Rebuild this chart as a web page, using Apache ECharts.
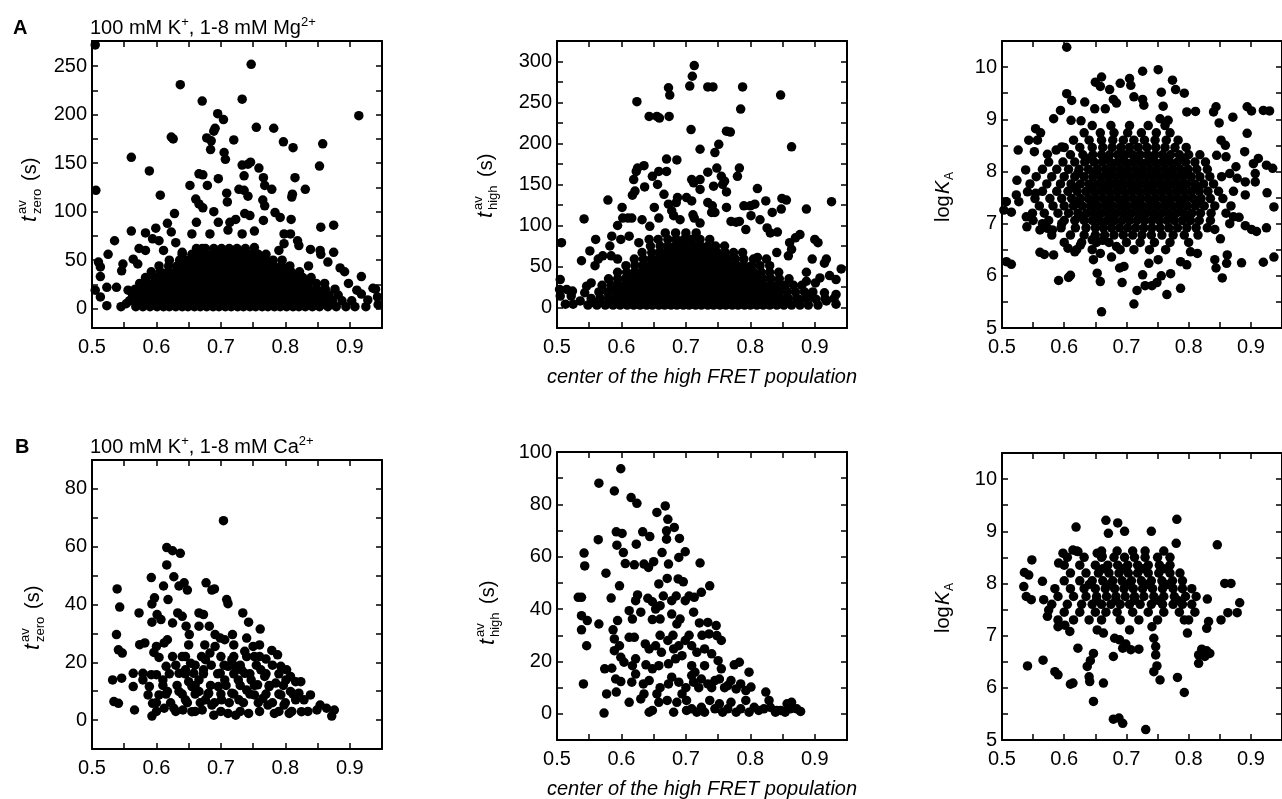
<!DOCTYPE html>
<html>
<head>
<meta charset="utf-8">
<script src="https://cdn.jsdelivr.net/npm/echarts@6/dist/echarts.min.js"></script>
<style>
  html, body { margin: 0; padding: 0; background: #fff; }
  #main { width: 1282px; height: 799px; }
</style>
</head>
<body>
<div id="main"></div>
<script>
// tick labels
const xLabels = [0.5, 0.6, 0.7, 0.8, 0.9];
const xTicks = [0.55, 0.6, 0.65, 0.7, 0.75, 0.8, 0.85, 0.9];
const a1YLabels = [0, 50, 100, 150, 200, 250];
const a1YTicks = [0, 25, 50, 75, 100, 125, 150, 175, 200, 225, 250];
const a2YLabels = [0, 50, 100, 150, 200, 250, 300];
const a2YTicks = [0, 25, 50, 75, 100, 125, 150, 175, 200, 225, 250, 275, 300];
const kYLabels = [5, 6, 7, 8, 9, 10];
const kYTicks = [5.5, 6, 6.5, 7, 7.5, 8, 8.5, 9, 9.5, 10];
const b1YLabels = [0, 20, 40, 60, 80];
const b1YTicks = [0, 10, 20, 30, 40, 50, 60, 70, 80];
const b2YLabels = [0, 20, 40, 60, 80, 100];
const b2YTicks = [0, 10, 20, 30, 40, 50, 60, 70, 80, 90];

// A, left: t_zero vs FRET center (Mg)
const a1Pts = [[0.505,272],[0.506,122],[0.747,252],[0.637,231],[0.671,214],[0.733,216],[0.914,199],[0.695,201],[0.704,195],[0.691,186],[0.689,183],[0.755,187],[0.782,186],[0.623,177],[0.626,175],[0.678,176],[0.685,173],[0.684,164],[0.72,174],[0.797,172],[0.812,166],[0.858,170],[0.561,156],[0.589,142],[0.705,161],[0.707,154],[0.746,151],[0.733,148],[0.742,149],[0.853,147],[0.759,145],[0.666,139],[0.672,138],[0.696,134],[0.736,137],[0.766,135],[0.815,135],[0.652,127],[0.679,127],[0.728,123],[0.779,123],[0.831,123],[0.768,127],[0.606,117],[0.709,119],[0.71,110],[0.736,122],[0.742,116],[0.811,118],[0.81,115],[0.661,113],[0.666,108],[0.672,104],[0.689,100],[0.765,112],[0.768,106],[0.628,98],[0.737,98],[0.745,96],[0.784,99],[0.792,94],[0.809,92],[0.766,91],[0.723,92],[0.714,89],[0.696,89],[0.662,89],[0.617,88],[0.875,86],[0.855,84],[0.599,83],[0.561,80],[0.623,79],[0.655,77],[0.683,77],[0.711,81],[0.733,77],[0.752,80],[0.798,77],[0.808,77],[0.583,78],[0.535,70],[0.594,72],[0.604,70],[0.63,68],[0.819,70],[0.821,65],[0.798,67],[0.525,56],[0.573,62],[0.583,60],[0.611,60],[0.64,58],[0.839,61],[0.854,60],[0.875,58],[0.855,56],[0.79,60],[0.752,63],[0.732,56],[0.671,62],[0.836,44],[0.885,42],[0.892,38],[0.866,48],[0.918,33],[0.898,26],[0.911,19],[0.936,21],[0.918,15],[0.928,9],[0.51,48],[0.513,43],[0.513,33],[0.505,19],[0.513,12],[0.523,3],[0.523,22],[0.548,46],[0.546,39],[0.564,51],[0.571,46],[0.556,19],[0.538,22],[0.553,5],[0.94,20],[0.943,12],[0.944,4]];
const a1Rows = [
  [2, [0.545,0.568,0.579,0.59,0.601,0.611,0.62,0.63,0.64,0.649,0.659,0.668,0.678,0.688,0.697,0.707,0.716,0.726,0.735,0.745,0.754,0.764,0.773,0.783,0.792,0.802,0.812,0.821,0.831,0.842,0.853,0.866,0.879,0.894,0.908,0.925]],
  [8, [0.558,0.571,0.583,0.594,0.605,0.615,0.625,0.635,0.644,0.654,0.663,0.673,0.683,0.692,0.702,0.711,0.721,0.731,0.74,0.75,0.759,0.769,0.778,0.788,0.797,0.807,0.817,0.827,0.838,0.849,0.861,0.873,0.888,0.903]],
  [14, [0.563,0.575,0.587,0.598,0.609,0.619,0.629,0.639,0.648,0.658,0.667,0.677,0.686,0.696,0.706,0.715,0.725,0.734,0.744,0.753,0.763,0.772,0.782,0.791,0.801,0.811,0.821,0.832,0.843,0.855,0.868,0.882]],
  [20, [0.567,0.58,0.592,0.603,0.613,0.623,0.633,0.643,0.652,0.662,0.671,0.681,0.69,0.7,0.71,0.719,0.729,0.738,0.748,0.757,0.767,0.776,0.786,0.795,0.805,0.815,0.826,0.837,0.849,0.862,0.877]],
  [26, [0.574,0.587,0.599,0.61,0.62,0.63,0.64,0.649,0.659,0.668,0.678,0.687,0.697,0.706,0.716,0.725,0.735,0.744,0.754,0.763,0.773,0.782,0.792,0.802,0.812,0.823,0.835,0.848,0.861]],
  [32, [0.583,0.597,0.609,0.62,0.631,0.641,0.651,0.66,0.67,0.679,0.689,0.698,0.708,0.717,0.727,0.736,0.746,0.755,0.765,0.774,0.784,0.794,0.804,0.815,0.827,0.84]],
  [38, [0.592,0.606,0.618,0.63,0.641,0.651,0.661,0.671,0.68,0.69,0.699,0.709,0.718,0.728,0.737,0.747,0.756,0.766,0.776,0.786,0.797,0.809,0.822]],
  [44, [0.604,0.619,0.632,0.644,0.655,0.665,0.675,0.685,0.694,0.704,0.713,0.723,0.732,0.742,0.751,0.761,0.771,0.782,0.794,0.807]],
  [50, [0.62,0.636,0.649,0.66,0.671,0.681,0.691,0.7,0.71,0.719,0.729,0.738,0.748,0.758,0.769,0.781,0.795]],
  [56, [0.64,0.655,0.667,0.678,0.688,0.698,0.708,0.717,0.727,0.737,0.747,0.758,0.77]],
  [62, [0.662,0.676,0.689,0.701,0.713,0.725,0.738]]
];

// A, middle: t_high vs FRET center (Mg)
const a2Pts = [[0.713,295],[0.71,282],[0.706,270],[0.673,268],[0.675,259],[0.734,269],[0.742,269],[0.788,269],[0.847,259],[0.624,251],[0.785,242],[0.643,233],[0.655,233],[0.659,231],[0.674,233],[0.708,217],[0.763,215],[0.769,214],[0.864,196],[0.722,193],[0.751,199],[0.745,189],[0.67,181],[0.686,180],[0.635,173],[0.625,170],[0.623,166],[0.783,170],[0.78,160],[0.658,166],[0.67,166],[0.648,160],[0.656,150],[0.734,165],[0.748,170],[0.722,156],[0.709,156],[0.712,152],[0.755,160],[0.76,154],[0.757,150],[0.743,148],[0.763,141],[0.763,122],[0.619,156],[0.621,142],[0.617,137],[0.636,147],[0.722,144],[0.811,145],[0.666,138],[0.673,126],[0.687,134],[0.685,128],[0.701,134],[0.709,130],[0.579,131],[0.734,128],[0.741,124],[0.79,124],[0.8,124],[0.807,126],[0.824,130],[0.849,133],[0.856,131],[0.848,120],[0.887,120],[0.926,129],[0.601,122],[0.651,122],[0.658,109],[0.542,108],[0.602,109],[0.61,109],[0.616,109],[0.632,107],[0.644,99],[0.594,100],[0.678,118],[0.681,112],[0.691,107],[0.711,113],[0.713,109],[0.722,103],[0.74,116],[0.745,116],[0.77,105],[0.778,104],[0.783,105],[0.801,112],[0.815,107],[0.834,116],[0.793,95],[0.826,97],[0.831,91],[0.842,92],[0.87,85],[0.877,89],[0.9,83],[0.905,79],[0.56,83],[0.599,83],[0.612,87],[0.627,79],[0.643,83],[0.585,87],[0.582,75],[0.551,69],[0.538,57],[0.584,63],[0.594,59],[0.507,79],[0.861,79],[0.864,71],[0.896,59],[0.915,54],[0.918,59],[0.859,63],[0.841,67],[0.811,61],[0.825,59],[0.887,43],[0.908,36],[0.923,39],[0.933,34],[0.941,47],[0.887,32],[0.901,30],[0.915,18],[0.933,16],[0.902,10],[0.918,8],[0.933,4],[0.875,10],[0.892,12],[0.505,34],[0.505,14],[0.504,22],[0.513,4],[0.525,4],[0.515,22],[0.524,20],[0.522,14],[0.536,8],[0.543,18],[0.546,26],[0.553,30],[0.556,6],[0.566,6],[0.559,51],[0.564,59],[0.571,63]];
const a2Rows = [
  [3, [0.548,0.562,0.575,0.587,0.598,0.609,0.619,0.629,0.639,0.648,0.658,0.667,0.677,0.686,0.696,0.705,0.715,0.724,0.734,0.743,0.753,0.762,0.772,0.781,0.791,0.8,0.81,0.82,0.83,0.841,0.852,0.864,0.877,0.89,0.905]],
  [11, [0.553,0.567,0.58,0.592,0.603,0.614,0.624,0.634,0.643,0.653,0.662,0.672,0.681,0.691,0.7,0.71,0.719,0.729,0.738,0.748,0.757,0.767,0.776,0.786,0.795,0.805,0.815,0.825,0.836,0.847,0.859,0.872,0.886,0.916,0.93]],
  [19, [0.565,0.578,0.59,0.601,0.612,0.622,0.632,0.641,0.651,0.66,0.67,0.679,0.689,0.698,0.708,0.717,0.727,0.736,0.746,0.755,0.765,0.774,0.784,0.793,0.803,0.813,0.823,0.834,0.845,0.857,0.87,0.884,0.897]],
  [27, [0.57,0.584,0.596,0.607,0.618,0.628,0.638,0.647,0.657,0.666,0.676,0.685,0.695,0.704,0.714,0.723,0.733,0.742,0.752,0.761,0.771,0.78,0.79,0.8,0.81,0.82,0.831,0.842,0.854,0.867,0.88]],
  [35, [0.58,0.594,0.606,0.617,0.627,0.637,0.646,0.656,0.665,0.675,0.684,0.694,0.703,0.713,0.722,0.732,0.741,0.751,0.76,0.77,0.779,0.789,0.799,0.809,0.82,0.832,0.845,0.86]],
  [43, [0.594,0.608,0.62,0.631,0.641,0.651,0.66,0.67,0.679,0.689,0.698,0.708,0.717,0.727,0.736,0.746,0.755,0.765,0.774,0.784,0.794,0.805,0.817,0.83,0.844]],
  [51, [0.607,0.621,0.633,0.644,0.654,0.664,0.673,0.683,0.692,0.702,0.711,0.721,0.73,0.74,0.749,0.759,0.769,0.779,0.79,0.802,0.815,0.83]],
  [59, [0.62,0.634,0.646,0.657,0.667,0.677,0.686,0.696,0.705,0.715,0.724,0.734,0.744,0.754,0.765,0.777,0.79,0.805]],
  [67, [0.632,0.647,0.659,0.67,0.68,0.69,0.699,0.709,0.718,0.728,0.738,0.749,0.761,0.774,0.788]],
  [75, [0.645,0.66,0.672,0.683,0.693,0.703,0.713,0.723,0.734,0.746,0.76]],
  [83, [0.657,0.672,0.685,0.697,0.709,0.722,0.737]],
  [91, [0.668,0.684,0.7,0.716]]
];

// A, right: logK_A vs FRET center (Mg)
const a3Pts = [[0.604,10.38],[0.726,9.92],[0.751,9.95],[0.66,9.81],[0.65,9.71],[0.658,9.63],[0.673,9.57],[0.69,9.69],[0.705,9.78],[0.707,9.65],[0.774,9.75],[0.779,9.57],[0.793,9.5],[0.756,9.52],[0.604,9.49],[0.612,9.36],[0.633,9.33],[0.679,9.38],[0.684,9.31],[0.712,9.43],[0.726,9.38],[0.728,9.27],[0.759,9.25],[0.594,9.17],[0.649,9.2],[0.666,9.2],[0.797,9.14],[0.811,9.15],[0.84,9.14],[0.844,9.24],[0.894,9.24],[0.901,9.16],[0.92,9.17],[0.93,9.16],[0.583,9.01],[0.611,8.98],[0.627,8.97],[0.871,9.04],[0.849,8.93],[0.754,9.01],[0.767,8.98],[0.526,8.41],[0.543,8.6],[0.554,8.82],[0.562,8.74],[0.557,8.6],[0.552,8.38],[0.596,8.47],[0.587,8.41],[0.573,8.33],[0.538,8.03],[0.524,7.83],[0.523,7.55],[0.527,7.42],[0.507,7.42],[0.503,7.26],[0.515,7.22],[0.539,7.13],[0.54,6.94],[0.549,7.2],[0.541,7.61],[0.554,7.58],[0.561,6.88],[0.565,7.0],[0.573,6.91],[0.561,6.45],[0.568,6.41],[0.583,6.4],[0.507,6.27],[0.515,6.22],[0.591,5.91],[0.607,5.97],[0.61,6.01],[0.581,6.88],[0.596,7.0],[0.606,6.53],[0.617,6.46],[0.626,6.59],[0.645,6.69],[0.647,6.31],[0.658,6.43],[0.662,6.68],[0.653,6.05],[0.658,5.89],[0.66,5.31],[0.689,6.15],[0.696,6.18],[0.693,5.87],[0.676,6.36],[0.684,6.56],[0.717,5.72],[0.712,5.46],[0.726,6.02],[0.73,5.81],[0.741,5.81],[0.749,5.87],[0.756,6.0],[0.771,6.04],[0.765,5.64],[0.736,6.24],[0.751,6.31],[0.787,5.76],[0.787,6.27],[0.797,6.21],[0.803,6.46],[0.814,6.43],[0.842,6.31],[0.844,6.15],[0.854,5.96],[0.861,6.24],[0.862,6.4],[0.851,6.71],[0.885,6.25],[0.92,6.26],[0.937,6.36],[0.842,6.89],[0.866,7.0],[0.872,7.13],[0.881,7.12],[0.891,6.96],[0.901,6.89],[0.909,6.85],[0.925,6.92],[0.891,7.55],[0.926,7.59],[0.937,7.32],[0.894,8.73],[0.89,8.38],[0.904,8.15],[0.912,8.25],[0.925,8.12],[0.935,8.06],[0.907,7.96],[0.907,7.8],[0.876,8.09],[0.866,7.96],[0.878,7.87],[0.891,7.8],[0.859,8.5],[0.852,8.6],[0.845,8.31],[0.86,8.28]];
const a3Rows = [
  [6.5, [0.62,0.645,0.69,0.712,0.737,0.763]],
  [6.64, [0.6,0.628,0.652,0.672,0.7,0.722,0.745,0.77,0.8]],
  [6.78, [0.58,0.61,0.632,0.65,0.665,0.68,0.695,0.71,0.725,0.74,0.757,0.775,0.793,0.815]],
  [6.92, [0.595,0.618,0.635,0.65,0.663,0.676,0.689,0.702,0.715,0.728,0.741,0.754,0.768,0.782,0.797,0.812,0.83]],
  [7.06, [0.55,0.575,0.6,0.617,0.632,0.645,0.657,0.669,0.681,0.693,0.705,0.717,0.729,0.741,0.753,0.765,0.777,0.79,0.803,0.817,0.835]],
  [7.13, [0.626,0.651,0.675,0.699,0.723,0.747,0.771,0.796]],
  [7.2, [0.568,0.59,0.607,0.622,0.636,0.648,0.66,0.672,0.684,0.696,0.708,0.72,0.732,0.744,0.756,0.768,0.78,0.792,0.805,0.819,0.836,0.86]],
  [7.34, [0.56,0.582,0.6,0.615,0.629,0.642,0.654,0.666,0.678,0.69,0.702,0.714,0.726,0.738,0.75,0.762,0.774,0.786,0.798,0.811,0.825,0.842,0.868]],
  [7.41, [0.62,0.645,0.669,0.693,0.717,0.741,0.765,0.79,0.815]],
  [7.48, [0.553,0.577,0.596,0.612,0.626,0.639,0.651,0.663,0.675,0.687,0.699,0.711,0.723,0.735,0.747,0.759,0.771,0.783,0.795,0.807,0.82,0.835,0.855]],
  [7.62, [0.565,0.588,0.606,0.621,0.635,0.648,0.66,0.672,0.684,0.696,0.708,0.72,0.732,0.744,0.756,0.768,0.78,0.792,0.804,0.817,0.831,0.848,0.872]],
  [7.69, [0.617,0.642,0.666,0.69,0.714,0.738,0.762,0.786,0.811]],
  [7.76, [0.545,0.572,0.594,0.611,0.626,0.64,0.653,0.665,0.677,0.689,0.701,0.713,0.725,0.737,0.749,0.761,0.773,0.785,0.797,0.81,0.824,0.84]],
  [7.9, [0.555,0.58,0.6,0.617,0.632,0.646,0.659,0.671,0.683,0.695,0.707,0.719,0.731,0.743,0.755,0.767,0.779,0.791,0.804,0.818,0.834,0.853]],
  [7.97, [0.622,0.647,0.672,0.696,0.72,0.744,0.768,0.792]],
  [8.04, [0.565,0.588,0.607,0.624,0.639,0.653,0.666,0.678,0.69,0.702,0.714,0.726,0.738,0.75,0.762,0.774,0.786,0.799,0.813,0.83]],
  [8.18, [0.575,0.598,0.617,0.633,0.648,0.661,0.674,0.686,0.698,0.71,0.722,0.734,0.746,0.758,0.77,0.782,0.795,0.81,0.827]],
  [8.25, [0.64,0.667,0.692,0.716,0.74,0.764,0.788]],
  [8.32, [0.61,0.63,0.646,0.66,0.673,0.686,0.698,0.71,0.722,0.734,0.746,0.758,0.771,0.785,0.8,0.818]],
  [8.46, [0.6,0.625,0.645,0.662,0.677,0.691,0.705,0.719,0.733,0.747,0.762,0.778,0.796]],
  [8.6, [0.615,0.64,0.66,0.678,0.695,0.712,0.729,0.746,0.764,0.783]],
  [8.74, [0.632,0.658,0.68,0.702,0.724,0.748,0.77]],
  [8.88, [0.645,0.675,0.705,0.735,0.762]]
];

// B, left: t_zero vs FRET center (Ca)
const b1Pts = [[0.704,69],[0.616,59.7],[0.625,58.6],[0.637,57.7],[0.616,53.7],[0.592,49.3],[0.627,49.6],[0.635,46.4],[0.643,47.5],[0.648,45],[0.611,46.4],[0.539,45.4],[0.677,47.5],[0.686,45],[0.69,45.4],[0.597,42.3],[0.593,40.2],[0.573,37.1],[0.543,39.1],[0.601,36.5],[0.607,34.8],[0.593,33.9],[0.625,33.6],[0.618,41.7],[0.633,37.1],[0.64,35.9],[0.646,32.5],[0.651,29.6],[0.666,37.1],[0.673,36.5],[0.666,32.5],[0.682,32.5],[0.709,41.7],[0.711,40.3],[0.734,37.1],[0.743,33.9],[0.538,29.6],[0.541,24.3],[0.547,23.2],[0.574,26.1],[0.582,26.7],[0.596,23.4],[0.6,25.5],[0.604,21.7],[0.617,27.8],[0.612,26.7],[0.718,29.6],[0.691,29.6],[0.699,28.4],[0.706,27.8],[0.74,28.4],[0.75,25.5],[0.761,31.5],[0.737,23.8],[0.74,22],[0.752,22],[0.779,24.1],[0.788,22.6],[0.77,21.1],[0.762,17.4],[0.793,18.6],[0.532,13.9],[0.546,14.5],[0.534,6.4],[0.541,5.8],[0.566,3.5],[0.564,11.6],[0.564,16.2],[0.579,16.2],[0.579,13.9],[0.592,15.7],[0.6,15.7],[0.587,8.7],[0.594,5.8],[0.593,1.4],[0.589,11.6],[0.61,13.9],[0.615,18.6],[0.625,22],[0.604,8.7],[0.617,9.9],[0.612,4.1],[0.627,4.1],[0.635,9.9],[0.645,7],[0.641,3.5],[0.655,2.9],[0.635,16.2],[0.645,17.4],[0.653,19.7],[0.645,22],[0.658,16.2],[0.666,13.9],[0.673,17.4],[0.676,20.9],[0.683,23.2],[0.691,25.5],[0.666,9.9],[0.676,7],[0.681,9.3],[0.689,1.7],[0.699,16.2],[0.706,13.9],[0.711,18.6],[0.717,20.9],[0.696,11.6],[0.701,7],[0.711,2.3],[0.723,1.7],[0.717,9.3],[0.727,13.9],[0.732,17.4],[0.737,16.2],[0.722,18.6],[0.728,7],[0.74,10.4],[0.743,2.3],[0.747,13.9],[0.752,8.7],[0.757,12.2],[0.765,7.5],[0.768,15.1],[0.775,11.6],[0.783,2.3],[0.773,5.2],[0.785,12.8],[0.793,8.7],[0.798,5.2],[0.801,13.9],[0.808,9.9],[0.816,13.3],[0.824,13.3],[0.806,2.3],[0.816,7],[0.821,9.3],[0.825,2.9],[0.829,7],[0.839,8.7],[0.849,3.5],[0.854,5.2],[0.864,4.1],[0.872,1.4],[0.876,3.5],[0.802,17.4],[0.808,15.1],[0.655,11.6],[0.65,13.3],[0.671,3.5],[0.686,5.2]];
const b1Rows = [
  [3, [0.6,0.63,0.66,0.7,0.73,0.76,0.79,0.81,0.835]],
  [6, [0.6,0.622,0.648,0.668,0.69,0.713,0.735,0.758,0.78,0.8]],
  [9, [0.615,0.64,0.66,0.68,0.7,0.72,0.745,0.77,0.79,0.812]],
  [12, [0.61,0.632,0.66,0.684,0.708,0.73,0.752,0.775,0.797]],
  [16, [0.62,0.645,0.673,0.695,0.72,0.745,0.77,0.79]],
  [19, [0.63,0.66,0.685,0.705,0.73,0.755,0.78]],
  [22, [0.64,0.67,0.7,0.72,0.76]],
  [26, [0.65,0.675,0.72,0.76]]
];

// B, middle: t_high vs FRET center (Ca)
const b2Pts = [[0.599,93.6],[0.565,88.1],[0.589,85.1],[0.615,82.6],[0.624,80.4],[0.668,79.4],[0.672,74.3],[0.655,76.9],[0.682,71.2],[0.592,69.5],[0.601,68.9],[0.633,69.5],[0.644,67.7],[0.67,69.9],[0.67,66.7],[0.69,67],[0.564,66.5],[0.623,64.8],[0.593,64.4],[0.603,61.6],[0.699,61.9],[0.689,59.7],[0.542,61.4],[0.543,56.5],[0.62,56.9],[0.606,57.4],[0.642,55.9],[0.635,57.2],[0.65,58.1],[0.663,61.6],[0.673,57.2],[0.722,57.6],[0.576,53.7],[0.597,48.9],[0.658,49.6],[0.671,51.7],[0.688,51.5],[0.696,50.4],[0.737,48.9],[0.724,46.4],[0.533,44.5],[0.538,44.5],[0.584,44.2],[0.625,45.4],[0.622,43.2],[0.641,44.1],[0.648,42.8],[0.653,40],[0.66,41.3],[0.678,43.2],[0.699,43.2],[0.713,44.5],[0.712,38.8],[0.612,39.4],[0.63,38.8],[0.617,36.2],[0.538,37.5],[0.547,35.6],[0.565,34.3],[0.538,32.1],[0.546,26],[0.587,32.1],[0.594,35.6],[0.648,36],[0.66,36.2],[0.678,38.1],[0.686,34.3],[0.691,36.2],[0.721,34.7],[0.734,34.9],[0.747,33.7],[0.736,30.5],[0.748,29.9],[0.755,28],[0.589,28.6],[0.597,26],[0.612,29.2],[0.62,29.2],[0.637,26.7],[0.643,24.8],[0.653,26],[0.662,23.5],[0.672,28],[0.681,24.8],[0.699,28],[0.709,26],[0.717,23.5],[0.689,26],[0.694,22.2],[0.729,24.8],[0.74,22.9],[0.589,24.1],[0.599,21.6],[0.604,19.7],[0.622,21],[0.617,18.4],[0.638,18.7],[0.648,17.2],[0.658,18.4],[0.673,19.1],[0.684,21],[0.709,18.4],[0.714,15.9],[0.729,18.4],[0.75,20.3],[0.755,17.2],[0.775,18.7],[0.783,19.7],[0.798,15.9],[0.574,17.2],[0.585,17.4],[0.541,11.4],[0.591,13.3],[0.599,12.3],[0.616,12.1],[0.622,15.2],[0.634,11.4],[0.643,12.7],[0.678,14],[0.673,11.4],[0.689,12.1],[0.709,14.6],[0.712,12.1],[0.724,13.3],[0.734,11.4],[0.745,12.7],[0.752,13.3],[0.765,10.8],[0.77,12.7],[0.778,9.5],[0.785,11.4],[0.793,8.9],[0.801,10.2],[0.824,8.3],[0.829,5.1],[0.577,7.6],[0.592,8.3],[0.612,4.4],[0.63,5.7],[0.635,7.6],[0.655,7.6],[0.658,4.4],[0.643,0.6],[0.648,1.3],[0.671,5.1],[0.686,4.4],[0.681,0.6],[0.694,7.6],[0.701,5.1],[0.701,1.3],[0.709,1.9],[0.717,0.6],[0.724,2.5],[0.729,0.6],[0.737,5.1],[0.745,1.9],[0.752,3.8],[0.757,0.6],[0.765,1.9],[0.77,4.4],[0.778,0.6],[0.785,1.9],[0.793,5.1],[0.798,0.6],[0.806,2.5],[0.813,1.3],[0.821,1.9],[0.831,2.5],[0.839,0.6],[0.841,1.3],[0.854,0.6],[0.847,1.3],[0.857,3.8],[0.864,4.4],[0.872,1.9],[0.878,0.9],[0.862,1.9],[0.573,0.3]];
const b2Rows = [
  [10, [0.66,0.7,0.72,0.74,0.76]],
  [30, [0.66,0.68,0.705,0.725]],
  [45, [0.665,0.685,0.705]]
];

// B, right: logK_A vs FRET center (Ca)
const b3Pts = [[0.781,9.23],[0.667,9.21],[0.686,9.16],[0.619,9.08],[0.671,8.96],[0.697,9.0],[0.74,9.0],[0.846,8.74],[0.78,8.77],[0.548,8.45],[0.536,8.21],[0.535,7.94],[0.539,7.75],[0.547,7.69],[0.543,8.16],[0.565,8.04],[0.541,6.42],[0.566,6.53],[0.585,6.31],[0.59,6.25],[0.61,6.07],[0.614,6.09],[0.641,6.12],[0.663,6.09],[0.647,5.74],[0.679,5.4],[0.688,5.42],[0.694,5.32],[0.731,5.2],[0.782,6.2],[0.793,5.91],[0.744,6.31],[0.754,6.15],[0.749,6.42],[0.747,6.63],[0.747,6.79],[0.744,6.95],[0.741,7.17],[0.637,6.41],[0.64,6.21],[0.642,6.52],[0.647,6.66],[0.679,6.6],[0.622,6.76],[0.816,6.63],[0.821,6.74],[0.829,6.71],[0.834,6.66],[0.826,6.6],[0.816,6.47],[0.829,7.14],[0.832,7.27],[0.83,7.7],[0.852,7.3],[0.863,7.44],[0.878,7.44],[0.882,7.63],[0.858,8.0],[0.868,8.0],[0.798,7.05],[0.793,7.3],[0.705,7.11],[0.707,6.73],[0.72,6.74],[0.681,6.95],[0.689,6.92],[0.699,6.84],[0.694,6.76],[0.663,7.05],[0.653,7.11],[0.609,7.08],[0.601,7.2],[0.59,7.17],[0.573,7.37],[0.575,7.49],[0.567,7.69],[0.598,8.58],[0.591,8.39],[0.614,8.64],[0.622,8.61],[0.653,8.58],[0.661,8.52]];
const b3Rows = [
  [7.3, [0.59,0.615,0.64,0.66,0.69,0.72,0.75,0.8]],
  [7.45, [0.6,0.625,0.65,0.667,0.685,0.71,0.735,0.76,0.785,0.81]],
  [7.6, [0.58,0.605,0.628,0.645,0.66,0.675,0.69,0.705,0.722,0.74,0.758,0.775,0.79,0.805]],
  [7.68, [0.652,0.683,0.713,0.75,0.782]],
  [7.75, [0.59,0.615,0.635,0.652,0.668,0.683,0.698,0.713,0.728,0.744,0.76,0.777,0.795,0.812]],
  [7.9, [0.585,0.61,0.632,0.65,0.666,0.681,0.696,0.711,0.726,0.742,0.758,0.775,0.79,0.805]],
  [7.98, [0.64,0.673,0.703,0.733,0.766]],
  [8.05, [0.6,0.625,0.645,0.662,0.678,0.693,0.708,0.724,0.74,0.757,0.774,0.79]],
  [8.2, [0.61,0.635,0.655,0.672,0.688,0.703,0.718,0.735,0.752,0.77,0.786]],
  [8.28, [0.662,0.695,0.727,0.76]],
  [8.35, [0.6,0.625,0.65,0.67,0.686,0.702,0.718,0.735,0.753,0.77]],
  [8.5, [0.605,0.632,0.66,0.68,0.697,0.713,0.73,0.75,0.77]],
  [8.62, [0.62,0.66,0.685,0.71,0.73,0.76]]
];

function withRows(pts, rows) {
  const out = pts.slice();
  rows.forEach(([y, xs]) => xs.forEach(x => out.push([x, y])));
  return out;
}

const FONT = 'Liberation Sans, Arial, sans-serif';

// grid boxes and y ranges
const panels = [
  { box: { left: 92, top: 41, width: 290, height: 287 }, ymin: -20, ymax: 276, yl: a1YLabels, yt: a1YTicks, data: withRows(a1Pts, a1Rows) },
  { box: { left: 557, top: 41, width: 290, height: 287 }, ymin: -25, ymax: 325, yl: a2YLabels, yt: a2YTicks, data: withRows(a2Pts, a2Rows) },
  { box: { left: 1002, top: 41, width: 290, height: 287 }, ymin: 5, ymax: 10.5, yl: kYLabels, yt: kYTicks, data: withRows(a3Pts, a3Rows) },
  { box: { left: 92, top: 460, width: 290, height: 289 }, ymin: -10, ymax: 90, yl: b1YLabels, yt: b1YTicks, data: withRows(b1Pts, b1Rows) },
  { box: { left: 557, top: 452, width: 290, height: 288 }, ymin: -10, ymax: 100, yl: b2YLabels, yt: b2YTicks, data: withRows(b2Pts, b2Rows) },
  { box: { left: 1002, top: 453, width: 290, height: 287 }, ymin: 5, ymax: 10.5, yl: kYLabels, yt: kYTicks, data: withRows(b3Pts, b3Rows) }
];

const lineStyle = { color: '#000', width: 2 };
const tickStyle = { color: '#000', width: 1.5 };

const grids = [], xAxes = [], yAxes = [], series = [];
panels.forEach((p, i) => {
  grids.push(Object.assign({ containLabel: false }, p.box));
  ['bottom', 'top'].forEach(pos => {
    xAxes.push({
      type: 'value', gridIndex: i, position: pos, min: 0.5, max: 0.95,
      splitLine: { show: false },
      axisLine: { show: true, onZero: false, lineStyle },
      axisTick: { show: true, inside: true, length: 6, lineStyle: tickStyle, customValues: xTicks },
      axisLabel: {
        show: pos === 'bottom', margin: 9, color: '#000', fontSize: 20, fontFamily: FONT,
        customValues: xLabels, formatter: v => v.toFixed(1)
      }
    });
  });
  ['left', 'right'].forEach(pos => {
    yAxes.push({
      type: 'value', gridIndex: i, position: pos, min: p.ymin, max: p.ymax,
      splitLine: { show: false },
      axisLine: { show: true, onZero: false, lineStyle },
      axisTick: { show: true, inside: true, length: 6, lineStyle: tickStyle, customValues: p.yt },
      axisLabel: {
        show: pos === 'left', margin: 5, color: '#000', fontSize: 20, fontFamily: FONT,
        customValues: p.yl
      }
    });
  });
  series.push({
    type: 'scatter', xAxisIndex: i * 2, yAxisIndex: i * 2,
    data: p.data, symbol: 'circle', symbolSize: 9.5,
    itemStyle: { color: '#000', opacity: 1 }, silent: true, clip: true
  });
});

function txt(s, x, y, size, extra) {
  return { type: 'text', x, y, style: Object.assign({ text: s, fontSize: size, fontFamily: FONT, fill: '#000', verticalAlign: 'middle' }, extra || {}) };
}

// rotated axis title t^av_sub (s)
function tTitle(x, y, sub) {
  return {
    type: 'group', x, y, rotation: Math.PI / 2,
    children: [
      txt('t', 0, 0, 22, { fontStyle: 'italic' }),
      txt('av', 8, -8, 13),
      txt(sub, 8, 7, 13),
      txt('(s)', 41, 0, 20)
    ]
  };
}

function kTitle(x, y) {
  return {
    type: 'group', x, y, rotation: Math.PI / 2,
    children: [
      txt('log', 0, 0, 20),
      txt('K', 28, 0, 20, { fontStyle: 'italic' }),
      txt('A', 42, 7, 12)
    ]
  };
}

const richHead = {
  a: { fontSize: 20, fontFamily: FONT, lineHeight: 24 },
  s: { fontSize: 13, fontFamily: FONT, lineHeight: 13, verticalAlign: 'top' }
};

const graphics = [
  txt('A', 13, 28, 20, { fontWeight: 'bold' }),
  { type: 'text', x: 90, y: 28, style: { text: '{a|100 mM K}{s|+}{a|, 1-8 mM Mg}{s|2+}', rich: richHead, fill: '#000', verticalAlign: 'middle' } },
  txt('B', 15, 447, 20, { fontWeight: 'bold' }),
  { type: 'text', x: 90, y: 447, style: { text: '{a|100 mM K}{s|+}{a|, 1-8 mM Ca}{s|2+}', rich: richHead, fill: '#000', verticalAlign: 'middle' } },
  tTitle(30, 222, 'zero'),
  tTitle(486, 218, 'high'),
  kTitle(943, 222),
  tTitle(33, 650, 'zero'),
  tTitle(488, 645, 'high'),
  kTitle(943, 633),
  txt('center of the high FRET population', 702, 377, 20, { fontStyle: 'italic', align: 'center' }),
  txt('center of the high FRET population', 702, 789, 20, { fontStyle: 'italic', align: 'center' })
];

const chart = echarts.init(document.getElementById('main'));
chart.setOption({
  animation: false,
  backgroundColor: '#fff',
  grid: grids,
  xAxis: xAxes,
  yAxis: yAxes,
  series,
  graphic: graphics
});
</script>
</body>
</html>
